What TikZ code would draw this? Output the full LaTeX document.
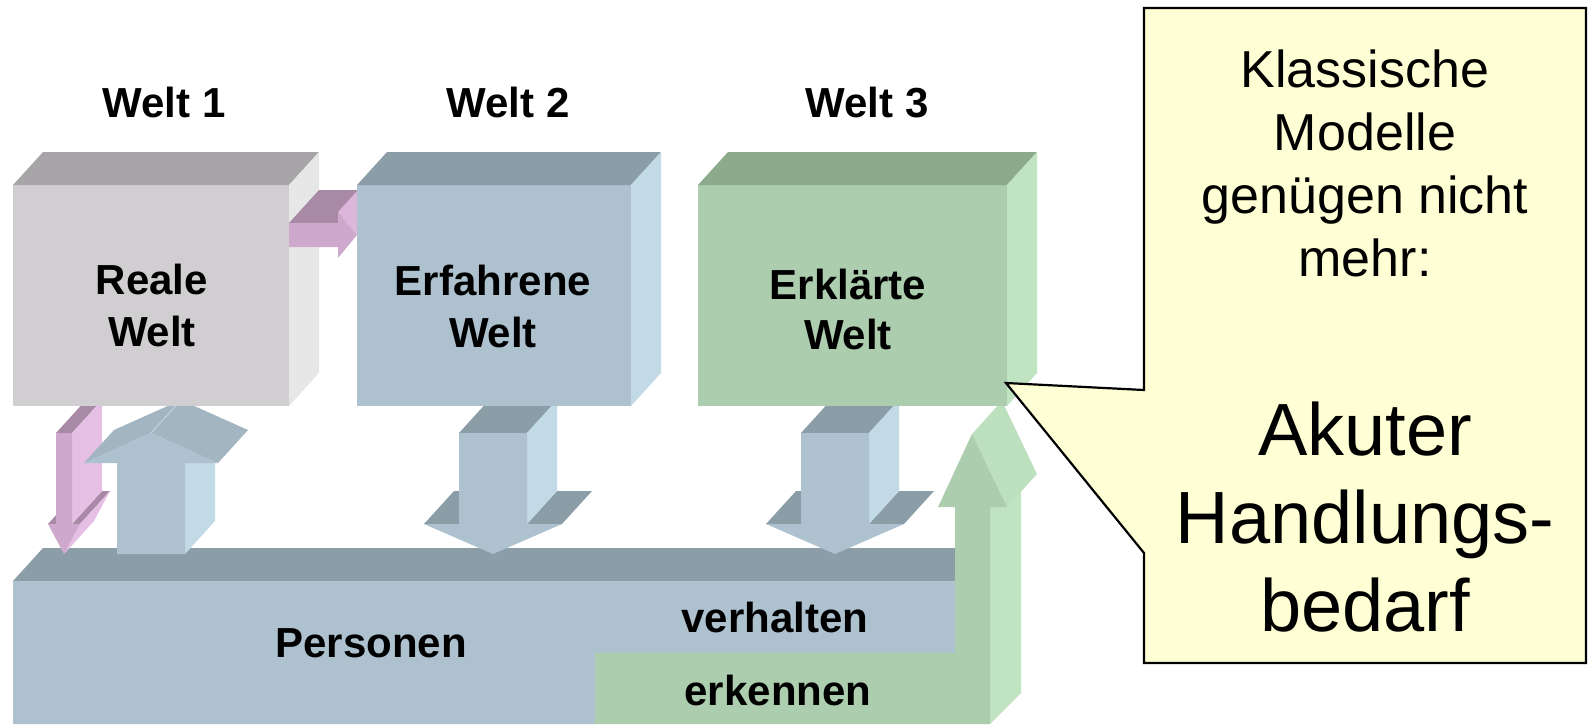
\documentclass[tikz,border=0pt]{standalone}
\usepackage{fontspec}
\setmainfont{Liberation Sans}
\definecolor{gfr}{HTML}{D0CED0}
\definecolor{gtp}{HTML}{A7A5A7}
\definecolor{gsd}{HTML}{E8E7E8}
\definecolor{bfr}{HTML}{ADC1CF}
\definecolor{btp}{HTML}{8B9EA8}
\definecolor{bsd}{HTML}{C2D9E6}
\definecolor{bhd}{HTML}{A3B5C1}
\definecolor{nfr}{HTML}{ACCDAE}
\definecolor{ntp}{HTML}{8DAA8D}
\definecolor{nsd}{HTML}{C0E4C2}
\definecolor{nhd}{HTML}{BDE0BF}
\definecolor{pfr}{HTML}{CFA9CD}
\definecolor{ptp}{HTML}{A88AA6}
\definecolor{psd}{HTML}{E6C0E4}
\definecolor{phd}{HTML}{DDB6DB}
\definecolor{cfill}{HTML}{FFFFD5}
\tikzset{
  frontbox/.style={anchor=north west, inner sep=0pt, outer sep=0pt},
  lbl/.style={font=\bfseries\fontsize{21}{25}\selectfont, anchor=base, inner sep=0pt},
  ctext/.style={font=\fontsize{26}{31}\selectfont, anchor=base, inner sep=0pt},
  btext/.style={font=\fontsize{37}{44}\selectfont, anchor=base, inner sep=0pt},
  pics/downarr/.style={code={
    \fill[btp] (-34,433) -- (-4,400) -- (64,400) -- (34,433) -- cycle;
    \fill[btp] (-69,524) -- (-39,491) -- (-34,491) -- (-34,524) -- cycle;
    \fill[btp] (34,524) -- (69,524) -- (99,491) -- (64,491) -- cycle;
    \fill[bsd] (34,433) -- (64,400) -- (64,491) -- (34,524) -- cycle;
    \fill[bfr] (-34,433) -- (34,433) -- (34,524) -- (69,524) -- (0,554) -- (-69,524) -- (-34,524) -- cycle;
  }},
  pics/pinkdown/.style={code={
    \fill[ptp] (-8,433) -- (22,400) -- (38,400) -- (8,433) -- cycle;
    \fill[ptp] (-16,524) -- (14,491) -- (22,491) -- (-8,524) -- cycle;
    \fill[ptp] (8,524) -- (16,524) -- (46,491) -- (38,491) -- cycle;
    \fill[psd] (8,433) -- (38,400) -- (38,491) -- (8,524) -- cycle;
    \fill[psd] (16,524) -- (0,554) -- (30,521) -- (46,491) -- cycle;
    \fill[pfr] (-8,433) -- (8,433) -- (8,524) -- (16,524) -- (0,554) -- (-16,524) -- (-8,524) -- cycle;
  }},
  pics/uparr/.style={code={
    \fill[bsd] (34,463) -- (64,430) -- (64,521) -- (34,554) -- cycle;
    \fill[bhd] (-67,463) -- (0,433) -- (30,400) -- (-37,430) -- cycle;
    \fill[bhd] (0,433) -- (67,463) -- (97,430) -- (30,400) -- cycle;
    \draw[bsd, line width=0.4pt] (0,433) -- (30,400);
    \fill[bfr] (-34,554) -- (-34,463) -- (-67,463) -- (0,433) -- (67,463) -- (34,463) -- (34,554) -- cycle;
  }}
}
\begin{document}
\begin{tikzpicture}[x=0.5pt,y=-0.5pt,line join=miter]
\useasboundingbox (0,0) rectangle (1590,724);

% Personen slab
\fill[btp] (13,581) -- (43,548) -- (955,548) -- (955,581) -- cycle;
\fill[bfr] (13,581) -- (955,581) -- (955,653) -- (595,653) -- (595,724) -- (13,724) -- cycle;

% green L-shaped arrow (erkennen)
\fill[nsd] (990,724) -- (1021,693) -- (1021,474) -- (990,507) -- cycle;
\fill[nhd] (972,434) -- (1007,507) -- (1037,474) -- (1002,401) -- cycle;
\fill[nfr] (595,653) -- (955,653) -- (955,507) -- (938,507) -- (972,434) -- (1007,507) -- (990,507) -- (990,724) -- (595,724) -- cycle;

% down arrows
\pic at (493,0) {downarr};
\pic at (835,0) {downarr};
\pic at (64,0) {pinkdown};
\pic at (151,0) {uparr};

% box 1
\node[frontbox, fill=gfr, minimum width=138pt, minimum height=110.5pt] (box1) at (13,185) {};
\fill[gtp] (box1.north west) -- ++(30,-33) -- ([shift={(30,-33)}]box1.north east) -- (box1.north east) -- cycle;
\fill[gsd] (box1.north east) -- ++(30,-33) -- ([shift={(30,-33)}]box1.south east) -- (box1.south east) -- cycle;

% pink horizontal arrow
\fill[ptp] (289,223) -- (319,190) -- (368,190) -- (338,223) -- cycle;
\fill[phd] (338,212) -- (357,235) -- (387,202) -- (368,179) -- cycle;
\fill[pfr] (289,223) -- (338,223) -- (338,212) -- (357,235) -- (338,258) -- (338,247) -- (289,247) -- cycle;

% box 2
\node[frontbox, fill=bfr, minimum width=137pt, minimum height=110.5pt] (box2) at (357,185) {};
\fill[btp] (box2.north west) -- ++(30,-33) -- ([shift={(30,-33)}]box2.north east) -- (box2.north east) -- cycle;
\fill[bsd] (box2.north east) -- ++(30,-33) -- ([shift={(30,-33)}]box2.south east) -- (box2.south east) -- cycle;

% box 3
\node[frontbox, fill=nfr, minimum width=154.5pt, minimum height=110.5pt] (box3) at (698,185) {};
\fill[ntp] (box3.north west) -- ++(30,-33) -- ([shift={(30,-33)}]box3.north east) -- (box3.north east) -- cycle;
\fill[nsd] (box3.north east) -- ++(30,-33) -- ([shift={(30,-33)}]box3.south east) -- (box3.south east) -- cycle;

% callout
\coordinate (ctip) at (1006,383);
\filldraw[fill=cfill, draw=black, line width=1.1pt] (1144,8) -- (1586,8) -- (1586,663) -- (1144,663) -- (1144,553) -- (ctip) -- (1144,390) -- cycle;

% labels
\node[lbl] (w1) at (164,117) {Welt 1};
\node[lbl] (w2) at (508,117) {Welt 2};
\node[lbl] (w3) at (867,117) {Welt 3};
\node[lbl] (t1a) at (152,294) {Reale};
\node[lbl] (t1b) at (152,346) {Welt};
\node[lbl] (t2a) at (493,295) {Erfahrene};
\node[lbl] (t2b) at (493,347) {Welt};
\node[lbl] (t3a) at (848,299) {Erklärte};
\node[lbl] (t3b) at (848,349) {Welt};
\node[lbl] (pers) at (371,657) {Personen};
\node[lbl] (verh) at (775,632) {verhalten};
\node[lbl] (erk) at (778,705) {erkennen};

\node[ctext] (c1) at (1365,87) {Klassische};
\node[ctext] (c2) at (1365,150) {Modelle};
\node[ctext] (c3) at (1365,213) {genügen nicht};
\node[ctext] (c4) at (1365,276) {mehr:};
\node[btext] (k1) at (1365,455) {Akuter};
\node[btext] (k2) at (1365,543) {Handlungs-};
\node[btext] (k3) at (1365,631) {bedarf};
\end{tikzpicture}
\end{document}
